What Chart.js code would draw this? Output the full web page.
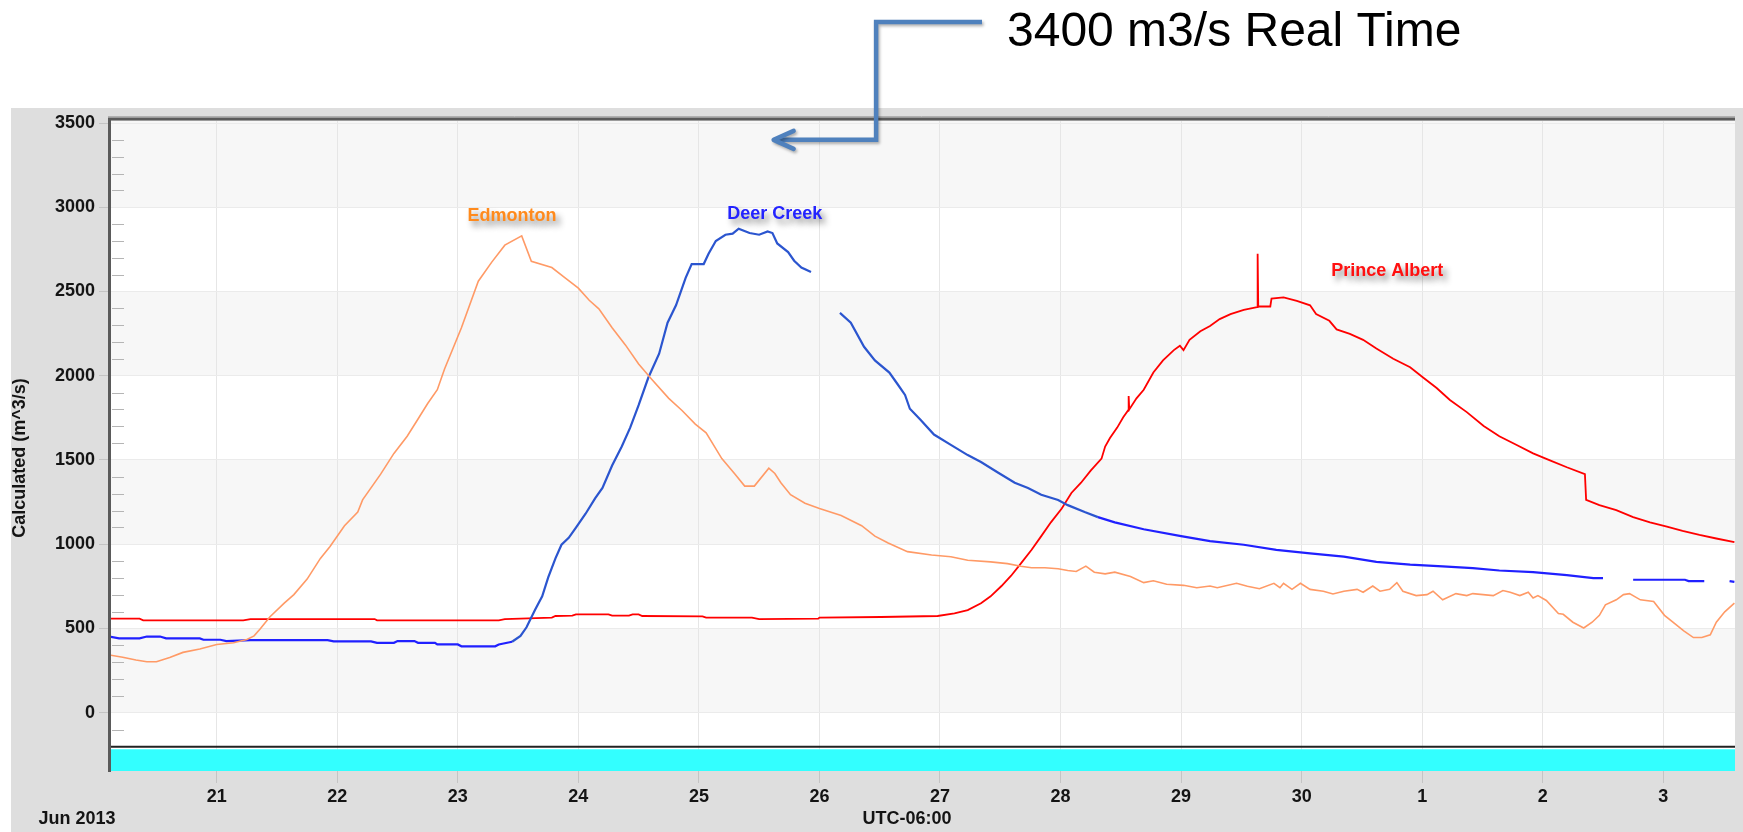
<!DOCTYPE html>
<html>
<head>
<meta charset="utf-8">
<title>Calculated flow, June 2013</title>
<style>
  html, body { margin: 0; padding: 0; background: #ffffff; }
  #wrap { position: relative; width: 1743px; height: 832px; }
  canvas { display: block; }
</style>
<script src="https://cdn.jsdelivr.net/npm/chart.js@4.4.1/dist/chart.umd.min.js"></script>
</head>
<body>
<div id="wrap"><canvas id="flow" width="1743" height="832"></canvas></div>
<script>
// Time axis: day number counted from 31 May 2013 (20 = 20 June, 31 = 1 July).
const xTickDays   = [21, 22, 23, 24, 25, 26, 27, 28, 29, 30, 31, 32, 33];
const xTickLabels = ['21', '22', '23', '24', '25', '26', '27', '28', '29', '30', '1', '2', '3'];
const yTickValues = [0, 500, 1000, 1500, 2000, 2500, 3000, 3500];

// Edmonton (m^3/s)
const edmontonDay = [20.11, 20.22, 20.33, 20.42, 20.50, 20.61, 20.72, 20.86, 21.00, 21.14, 21.25, 21.31, 21.36, 21.44, 21.56, 21.64, 21.75, 21.86, 21.94, 22.06, 22.17, 22.21, 22.36, 22.47, 22.58, 22.67, 22.75, 22.83, 22.89, 23.03, 23.17, 23.28, 23.39, 23.53, 23.61, 23.78, 23.89, 24.00, 24.09, 24.17, 24.28, 24.39, 24.50, 24.61, 24.75, 24.86, 24.97, 25.06, 25.19, 25.30, 25.38, 25.46, 25.58, 25.63, 25.68, 25.76, 25.88, 26.00, 26.18, 26.35, 26.46, 26.57, 26.73, 26.93, 27.09, 27.23, 27.42, 27.56, 27.67, 27.76, 27.87, 27.98, 28.06, 28.13, 28.21, 28.28, 28.37, 28.45, 28.58, 28.69, 28.77, 28.88, 29.02, 29.13, 29.24, 29.30, 29.46, 29.55, 29.65, 29.77, 29.82, 29.85, 29.92, 29.99, 30.07, 30.18, 30.26, 30.35, 30.46, 30.51, 30.59, 30.65, 30.73, 30.79, 30.84, 30.95, 31.04, 31.09, 31.17, 31.28, 31.37, 31.42, 31.59, 31.67, 31.73, 31.81, 31.88, 31.92, 31.96, 32.03, 32.13, 32.17, 32.25, 32.34, 32.41, 32.47, 32.52, 32.61, 32.67, 32.72, 32.81, 32.92, 33.01, 33.08, 33.17, 33.25, 33.32, 33.39, 33.44, 33.51, 33.59];
const edmontonFlow = [343, 329, 313, 302, 302, 327, 358, 378, 405, 415, 435, 456, 497, 568, 650, 701, 793, 916, 987, 1110, 1191, 1263, 1416, 1539, 1641, 1743, 1835, 1917, 2040, 2285, 2561, 2673, 2775, 2830, 2679, 2642, 2581, 2520, 2448, 2397, 2285, 2183, 2070, 1978, 1866, 1794, 1713, 1661, 1508, 1416, 1345, 1345, 1451, 1420, 1365, 1294, 1243, 1212, 1171, 1110, 1048, 1007, 956, 936, 926, 905, 895, 885, 869, 860, 860, 854, 844, 838, 870, 834, 824, 834, 809, 772, 783, 762, 756, 742, 752, 742, 768, 750, 736, 768, 742, 768, 732, 768, 732, 721, 705, 721, 732, 715, 752, 721, 732, 772, 721, 695, 701, 721, 670, 707, 695, 707, 695, 725, 715, 695, 715, 681, 695, 666, 589, 584, 537, 503, 537, 578, 640, 670, 701, 707, 670, 660, 578, 537, 486, 446, 446, 462, 537, 599, 650];

// Deer Creek (m^3/s); null marks missing records
const deerCreekDay = [20.11, 20.19, 20.36, 20.42, 20.53, 20.58, 20.86, 20.89, 21.03, 21.08, 21.28, 21.92, 21.97, 22.28, 22.33, 22.47, 22.50, 22.64, 22.67, 22.81, 22.83, 23.00, 23.03, 23.31, 23.34, 23.45, 23.52, 23.57, 23.64, 23.70, 23.75, 23.81, 23.86, 23.92, 23.98, 24.06, 24.14, 24.20, 24.28, 24.36, 24.43, 24.50, 24.58, 24.67, 24.74, 24.81, 24.89, 24.94, 25.04, 25.08, 25.14, 25.22, 25.28, 25.33, 25.42, 25.50, 25.57, 25.61, 25.65, 25.74, 25.79, 25.85, 25.93, 26.05, 26.17, 26.26, 26.37, 26.46, 26.58, 26.65, 26.71, 26.75, 26.84, 26.95, 27.09, 27.23, 27.34, 27.48, 27.62, 27.73, 27.84, 27.98, 28.06, 28.20, 28.31, 28.45, 28.69, 29.00, 29.24, 29.52, 29.79, 30.07, 30.35, 30.62, 30.90, 31.17, 31.42, 31.64, 31.92, 32.20, 32.42, 32.50, 32.62, 32.75, 33.18, 33.21, 33.34, 33.45, 33.55, 33.59];
const deerCreekFlow = [452, 441, 441, 452, 452, 441, 441, 433, 433, 425, 431, 431, 423, 423, 415, 415, 425, 425, 415, 415, 405, 405, 394, 394, 405, 421, 456, 507, 609, 691, 803, 916, 997, 1038, 1099, 1181, 1273, 1334, 1467, 1580, 1692, 1825, 1988, 2131, 2315, 2418, 2581, 2663, 2663, 2724, 2800, 2837, 2843, 2873, 2847, 2837, 2857, 2847, 2785, 2734, 2683, 2642, 2616, null, 2373, 2315, 2172, 2091, 2019, 1948, 1886, 1804, 1737, 1651, 1590, 1529, 1488, 1426, 1365, 1334, 1294, 1263, 1232, 1191, 1161, 1130, 1089, 1048, 1018, 997, 967, 946, 926, 895, 879, 869, 858, 844, 834, 817, 799, 799, null, 789, 789, 781, 781, null, 781, 777];

// Prince Albert (m^3/s)
const princeAlbertDay = [20.11, 20.36, 20.39, 21.22, 21.28, 22.31, 22.33, 23.34, 23.39, 23.78, 23.81, 23.95, 23.98, 24.25, 24.28, 24.42, 24.45, 24.50, 24.53, 25.03, 25.06, 25.44, 25.50, 25.99, 26.00, 26.51, 26.98, 27.12, 27.23, 27.34, 27.42, 27.51, 27.59, 27.67, 27.76, 27.84, 27.92, 28.01, 28.09, 28.17, 28.25, 28.34, 28.37, 28.41, 28.47, 28.52, 28.56, 28.565, 28.57, 28.63, 28.69, 28.77, 28.85, 28.94, 28.99, 29.02, 29.07, 29.16, 29.24, 29.32, 29.41, 29.52, 29.63, 29.635, 29.64, 29.74, 29.75, 29.85, 29.96, 30.07, 30.12, 30.23, 30.29, 30.40, 30.51, 30.62, 30.76, 30.90, 31.01, 31.12, 31.23, 31.37, 31.51, 31.64, 31.78, 31.92, 32.06, 32.20, 32.35, 32.36, 32.47, 32.61, 32.75, 32.89, 33.03, 33.16, 33.30, 33.44, 33.59];
const princeAlbertFlow = [558, 558, 548, 548, 556, 556, 548, 548, 556, 564, 574, 576, 584, 584, 576, 576, 584, 584, 574, 572, 564, 564, 556, 558, 564, 568, 574, 589, 609, 650, 691, 752, 813, 885, 967, 1048, 1130, 1212, 1304, 1365, 1437, 1508, 1580, 1630, 1692, 1753, 1794, 1880, 1800, 1866, 1917, 2019, 2091, 2152, 2178, 2152, 2213, 2264, 2295, 2336, 2366, 2391, 2407, 2724, 2411, 2411, 2458, 2465, 2444, 2418, 2366, 2326, 2275, 2248, 2213, 2162, 2101, 2050, 1988, 1927, 1856, 1784, 1702, 1641, 1590, 1539, 1498, 1457, 1416, 1263, 1232, 1202, 1161, 1130, 1104, 1079, 1055, 1034, 1012];

// Series names, written beside each curve at a (day, flow) anchor
const seriesNames   = ['Edmonton', 'Deer Creek', 'Prince Albert'];
const seriesNameDay = [23.45, 25.63, 30.71];
const seriesNameQ   = [2948, 2960, 2621];

// Real-time reference level pointed at by the callout
const realTimeLevel = 3400;

const FONT = '"Liberation Sans", Arial, Helvetica, sans-serif';
const X_MIN = 20.123, X_MAX = 33.595;
const Y_MIN = -346, Y_MAX = 3512;

const pairs = (xs, ys) => xs.map((x, i) => ({ x: x, y: ys[i] }));

const decor = {
  id: 'decor',
  beforeDraw(chart) {
    const { ctx, chartArea: a, scales: { y } } = chart;
    ctx.save();
    ctx.fillStyle = '#ffffff';
    ctx.fillRect(0, 0, chart.width, chart.height);
    // grey panel behind the plot
    ctx.fillStyle = '#dedede';
    ctx.fillRect(11, 108, chart.width - 11, chart.height - 108);
    // plot area with alternating 500-unit bands
    ctx.fillStyle = '#ffffff';
    ctx.fillRect(a.left, a.top, a.right - a.left, a.bottom - a.top);
    ctx.beginPath();
    ctx.rect(a.left, a.top, a.right - a.left, a.bottom - a.top);
    ctx.clip();
    ctx.fillStyle = '#f7f7f7';
    [0, 1000, 2000, 3000].forEach(b => {
      const top = b === 3000 ? a.top : y.getPixelForValue(b + 500);
      const bot = y.getPixelForValue(b);
      ctx.fillRect(a.left, top, a.right - a.left, bot - top);
    });
    ctx.restore();
  },
  beforeDatasetsDraw(chart) {
    const { ctx, chartArea: a, scales: { y } } = chart;
    ctx.save();
    // minor ticks every 100 inside the left edge
    ctx.strokeStyle = '#b5b5b5';
    ctx.lineWidth = 1;
    for (let v = -300; v <= 3500; v += 100) {
      if (v % 500 === 0) continue;
      const py = Math.round(y.getPixelForValue(v)) + 0.5;
      ctx.beginPath();
      ctx.moveTo(a.left + 1, py);
      ctx.lineTo(a.left + 13, py);
      ctx.stroke();
    }
    // status strip along the bottom of the plot
    const stripTop = y.getPixelForValue(-217);
    ctx.fillStyle = '#33ffff';
    ctx.fillRect(a.left, stripTop, a.right - a.left, a.bottom - stripTop);
    const lineY = y.getPixelForValue(-202);
    ctx.strokeStyle = '#222222';
    ctx.lineWidth = 2;
    ctx.beginPath();
    ctx.moveTo(a.left, lineY);
    ctx.lineTo(a.right, lineY);
    ctx.stroke();
    ctx.restore();
  },
  afterDraw(chart) {
    const { ctx, chartArea: a, scales: { x, y } } = chart;
    ctx.save();
    // plot frame: left axis and top edge
    ctx.strokeStyle = '#5a5a5a';
    ctx.lineWidth = 3;
    ctx.beginPath();
    ctx.moveTo(a.left - 1.5, a.top - 3);
    ctx.lineTo(a.left - 1.5, a.bottom + 1);
    ctx.stroke();
    ctx.beginPath();
    ctx.moveTo(a.left - 3, a.top - 2);
    ctx.lineTo(a.right, a.top - 2);
    ctx.stroke();
    ctx.strokeStyle = '#b0b0b0';
    ctx.lineWidth = 1;
    ctx.beginPath();
    ctx.moveTo(a.left - 3, a.top - 4.5);
    ctx.lineTo(a.right, a.top - 4.5);
    ctx.stroke();

    // series names with a soft drop shadow
    const nameColors = ['#ff8a1c', '#2323ff', '#ff1010'];
    ctx.font = 'bold 18px ' + FONT;
    ctx.textAlign = 'center';
    ctx.textBaseline = 'middle';
    seriesNames.forEach((n, i) => {
      ctx.save();
      ctx.shadowColor = 'rgba(0,0,0,0.45)';
      ctx.shadowBlur = 6;
      ctx.shadowOffsetX = 4;
      ctx.shadowOffsetY = 5;
      ctx.fillStyle = nameColors[i];
      ctx.fillText(n, x.getPixelForValue(seriesNameDay[i]), y.getPixelForValue(seriesNameQ[i]));
      ctx.restore();
    });

    // axis titles
    ctx.fillStyle = '#141414';
    ctx.save();
    ctx.translate(20, 458);
    ctx.rotate(-Math.PI / 2);
    ctx.font = 'bold 18px ' + FONT;
    ctx.fillText('Calculated (m^3/s)', 0, 0);
    ctx.restore();
    ctx.font = 'bold 18px ' + FONT;
    ctx.fillText('Jun 2013', 77, 819);
    ctx.fillText('UTC-06:00', 907, 819);

    // callout for the real-time level
    const tipY = y.getPixelForValue(realTimeLevel);
    const tipX = x.getPixelForValue(25.62);
    const elbowX = x.getPixelForValue(26.47);
    ctx.save();
    ctx.shadowColor = 'rgba(0,0,0,0.3)';
    ctx.shadowBlur = 3;
    ctx.shadowOffsetX = 1.5;
    ctx.shadowOffsetY = 2;
    ctx.strokeStyle = '#4f81bd';
    ctx.lineWidth = 4.5;
    ctx.lineJoin = 'miter';
    ctx.lineCap = 'butt';
    ctx.beginPath();
    ctx.moveTo(982, 22);
    ctx.lineTo(elbowX, 22);
    ctx.lineTo(elbowX, tipY);
    ctx.lineTo(tipX + 2, tipY);
    ctx.stroke();
    ctx.lineCap = 'round';
    ctx.lineJoin = 'round';
    ctx.beginPath();
    ctx.moveTo(tipX + 20, tipY - 9);
    ctx.lineTo(tipX, tipY);
    ctx.lineTo(tipX + 20, tipY + 9);
    ctx.stroke();
    ctx.restore();

    ctx.fillStyle = '#000000';
    ctx.font = '48px ' + FONT;
    ctx.textAlign = 'left';
    ctx.textBaseline = 'alphabetic';
    ctx.fillText('3400 m3/s Real Time', 1007, 46);
    ctx.restore();
  }
};

new Chart(document.getElementById('flow'), {
  type: 'line',
  data: {
    datasets: [
      {
        label: 'Edmonton',
        data: pairs(edmontonDay, edmontonFlow),
        borderColor: '#ff9a66',
        borderWidth: 1.6,
        pointRadius: 0,
        tension: 0
      },
      {
        label: 'Deer Creek',
        data: pairs(deerCreekDay, deerCreekFlow),
        borderColor: '#2020ff',
        borderWidth: 2.2,
        pointRadius: 0,
        tension: 0,
        spanGaps: false,
        segment: {
          borderColor: c => (c.p0.parsed.x >= 23.4 && c.p1.parsed.x <= 28.35) ? '#2b55cf' : '#2020ff'
        }
      },
      {
        label: 'Prince Albert',
        data: pairs(princeAlbertDay, princeAlbertFlow),
        borderColor: '#ff0000',
        borderWidth: 1.8,
        pointRadius: 0,
        tension: 0
      }
    ]
  },
  options: {
    responsive: false,
    animation: false,
    devicePixelRatio: 1,
    layout: { padding: { left: 0, top: 121, right: 8, bottom: 0 } },
    plugins: { legend: { display: false }, tooltip: { enabled: false } },
    scales: {
      x: {
        type: 'linear',
        min: X_MIN,
        max: X_MAX,
        afterBuildTicks: s => { s.ticks = xTickDays.map(v => ({ value: v })); },
        afterFit: s => { s.height = 61; },
        border: { display: false },
        grid: { color: '#e6e6e6', tickColor: '#c4c4c4', tickLength: 12, lineWidth: 1 },
        ticks: {
          autoSkip: false,
          maxRotation: 0,
          padding: 3,
          color: '#141414',
          font: { family: FONT, size: 18, weight: 'bold' },
          callback: v => xTickLabels[xTickDays.indexOf(v)]
        }
      },
      y: {
        type: 'linear',
        min: Y_MIN,
        max: Y_MAX,
        afterBuildTicks: s => { s.ticks = yTickValues.map(v => ({ value: v })); },
        afterFit: s => { s.width = 111; },
        border: { display: false },
        grid: { color: '#ebebeb', tickColor: '#c4c4c4', tickLength: 12, lineWidth: 1 },
        ticks: {
          padding: 4,
          color: '#141414',
          font: { family: FONT, size: 18, weight: 'bold' },
          callback: v => String(v)
        }
      }
    }
  },
  plugins: [decor]
});
</script>
</body>
</html>
